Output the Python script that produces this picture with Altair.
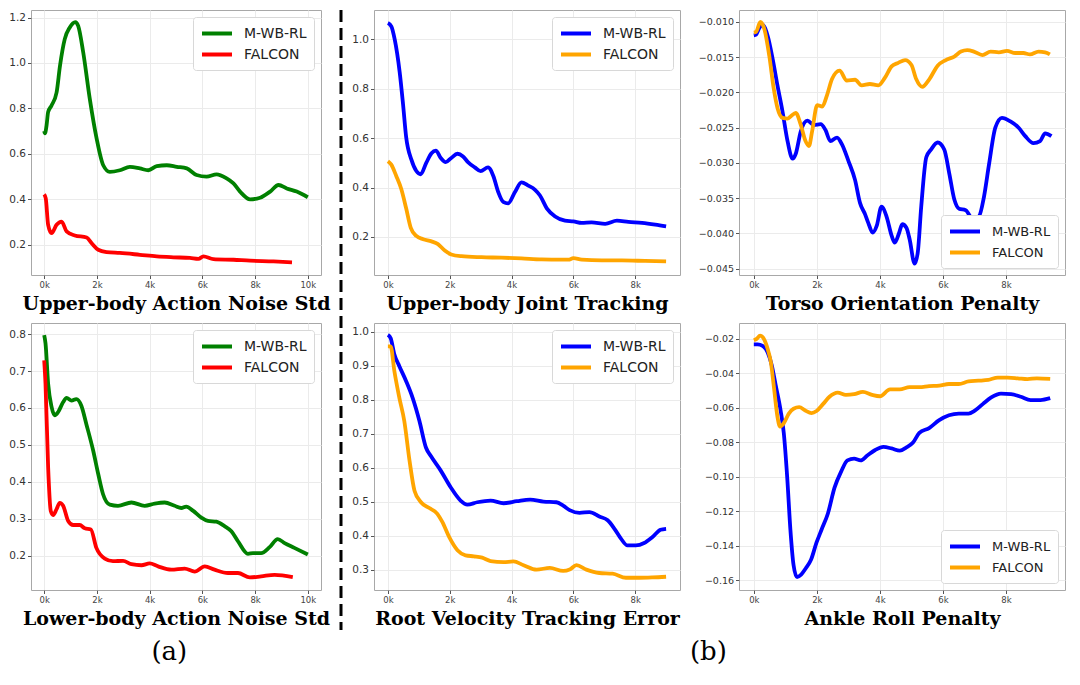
import altair as alt
import pandas as pd

METHODS = ["M-WB-RL", "FALCON"]

# ---------------- (a) Upper-body Action Noise Std ----------------
ub_noise_mwb_x = [0, 0.03, 0.09, 0.15, 0.28, 0.47, 0.6, 0.78, 0.97, 1.18, 1.29, 1.48, 1.73, 1.99, 2.24, 2.49,
                  2.87, 3.25, 3.63, 3.95, 4.27, 4.65, 5.03, 5.41, 5.78, 6.16, 6.54, 6.92, 7.18, 7.43, 7.81,
                  8.19, 8.57, 8.89, 9.2, 9.58, 10.0]
ub_noise_mwb_y = [0.70, 0.69, 0.725, 0.784, 0.813, 0.87, 0.988, 1.105, 1.156, 1.18, 1.163, 1.047, 0.842, 0.667,
                  0.55, 0.521, 0.528, 0.543, 0.536, 0.528, 0.546, 0.55, 0.543, 0.536, 0.507, 0.5, 0.51, 0.492,
                  0.47, 0.434, 0.4, 0.407, 0.434, 0.463, 0.448, 0.434, 0.409]
ub_noise_fal_x = [0, 0.06, 0.15, 0.28, 0.47, 0.66, 0.85, 1.16, 1.61, 1.8, 2.05, 2.37, 2.87, 3.63, 4.27, 4.9,
                  5.53, 5.85, 6.04, 6.42, 7.18, 7.81, 8.7, 9.4]
ub_noise_fal_y = [0.422, 0.404, 0.288, 0.251, 0.288, 0.302, 0.259, 0.241, 0.232, 0.207, 0.178, 0.168, 0.164,
                  0.156, 0.149, 0.145, 0.142, 0.138, 0.149, 0.137, 0.134, 0.13, 0.127, 0.123]

# ---------------- (a) Lower-body Action Noise Std ----------------
lb_noise_mwb_x = [0, 0.05, 0.15, 0.28, 0.4, 0.53, 0.72, 0.85, 1.04, 1.22, 1.41, 1.6, 1.86, 2.05, 2.23, 2.49,
                  2.8, 3.31, 3.81, 4.19, 4.57, 4.95, 5.2, 5.39, 5.64, 5.96, 6.21, 6.53, 6.84, 7.1, 7.35, 7.73,
                  7.92, 8.23, 8.55, 8.86, 9.12, 9.49, 10.0]
lb_noise_mwb_y = [0.797, 0.775, 0.666, 0.603, 0.58, 0.589, 0.616, 0.627, 0.62, 0.624, 0.606, 0.556, 0.484,
                  0.421, 0.367, 0.338, 0.335, 0.344, 0.335, 0.341, 0.344, 0.335, 0.329, 0.333, 0.322, 0.303,
                  0.294, 0.292, 0.28, 0.266, 0.239, 0.205, 0.207, 0.207, 0.223, 0.245, 0.234, 0.221, 0.203]
lb_noise_fal_x = [0, 0.05, 0.15, 0.25, 0.34, 0.47, 0.59, 0.72, 0.91, 1.1, 1.35, 1.54, 1.77, 1.98, 2.3, 2.61,
                  2.99, 3.31, 3.69, 4.0, 4.32, 4.82, 5.33, 5.71, 6.09, 6.46, 6.97, 7.35, 7.8, 8.23, 8.74, 9.43]
lb_noise_fal_y = [0.729, 0.666, 0.439, 0.321, 0.31, 0.326, 0.343, 0.335, 0.294, 0.283, 0.283, 0.274, 0.271,
                  0.221, 0.192, 0.185, 0.186, 0.177, 0.174, 0.179, 0.171, 0.162, 0.165, 0.157, 0.171, 0.162,
                  0.153, 0.153, 0.141, 0.144, 0.148, 0.142]

# ---------------- (b) Upper-body Joint Tracking ----------------
ub_track_mwb_x = [0, 0.11, 0.22, 0.38, 0.49, 0.59, 0.76, 0.92, 1.06, 1.24, 1.41, 1.55, 1.71, 1.87, 2.05, 2.25,
                  2.43, 2.59, 2.81, 3.0, 3.24, 3.41, 3.57, 3.73, 3.89, 4.11, 4.32, 4.54, 4.76, 4.92, 5.14,
                  5.41, 5.73, 6.0, 6.27, 6.59, 7.03, 7.41, 7.78, 8.22, 8.65, 9.0]
ub_track_mwb_y = [1.066, 1.053, 1.0, 0.868, 0.737, 0.605, 0.513, 0.467, 0.454, 0.5, 0.539, 0.55, 0.52, 0.503,
                  0.52, 0.537, 0.526, 0.503, 0.482, 0.467, 0.482, 0.447, 0.382, 0.342, 0.336, 0.382, 0.421,
                  0.408, 0.391, 0.368, 0.316, 0.283, 0.266, 0.263, 0.257, 0.259, 0.253, 0.266, 0.261, 0.257,
                  0.25, 0.243]
ub_track_fal_x = [0, 0.11, 0.27, 0.43, 0.59, 0.74, 0.92, 1.14, 1.41, 1.62, 1.84, 2.05, 2.38, 3.03, 3.68, 4.32,
                  4.97, 5.62, 5.84, 6.0, 6.27, 6.92, 7.57, 8.32, 9.0]
ub_track_fal_y = [0.507, 0.493, 0.447, 0.395, 0.316, 0.237, 0.204, 0.191, 0.182, 0.171, 0.145, 0.129, 0.122,
                  0.118, 0.116, 0.113, 0.109, 0.108, 0.108, 0.114, 0.108, 0.105, 0.105, 0.103, 0.101]

# ---------------- (b) Root Velocity Tracking Error ----------------
root_vel_mwb_x = [0, 0.09, 0.21, 0.37, 0.59, 0.8, 1.02, 1.23, 1.39, 1.71, 2.03, 2.35, 2.57, 2.89, 3.32, 3.74,
                  4.17, 4.6, 5.03, 5.45, 5.67, 5.88, 6.2, 6.52, 6.84, 7.11, 7.33, 7.54, 7.75, 8.02, 8.29, 8.56,
                  8.82, 9.0]
root_vel_mwb_y = [0.99, 0.98, 0.932, 0.898, 0.854, 0.805, 0.737, 0.659, 0.634, 0.591, 0.542, 0.503, 0.491,
                  0.498, 0.503, 0.495, 0.501, 0.506, 0.5, 0.498, 0.488, 0.475, 0.467, 0.469, 0.456, 0.445,
                  0.42, 0.391, 0.371, 0.371, 0.378, 0.396, 0.417, 0.42]
root_vel_fal_x = [0, 0.09, 0.21, 0.37, 0.53, 0.7, 0.86, 1.07, 1.34, 1.6, 1.76, 1.98, 2.25, 2.51, 2.78, 3.05,
                  3.32, 3.74, 4.06, 4.39, 4.81, 5.24, 5.67, 5.88, 6.1, 6.42, 6.84, 7.27, 7.7, 8.13, 8.56, 9.0]
root_vel_fal_y = [0.956, 0.956, 0.883, 0.805, 0.737, 0.62, 0.532, 0.498, 0.481, 0.464, 0.44, 0.396, 0.357,
                  0.342, 0.339, 0.335, 0.325, 0.322, 0.324, 0.313, 0.3, 0.305, 0.296, 0.3, 0.313, 0.3, 0.29,
                  0.288, 0.276, 0.276, 0.277, 0.279]

# ---------------- (b) Torso Orientation Penalty ----------------
torso_mwb_x = [0, 0.07, 0.18, 0.28, 0.44, 0.6, 0.75, 0.91, 1.07, 1.23, 1.33, 1.49, 1.7, 1.91, 2.12, 2.27,
               2.43, 2.64, 2.8, 3.0, 3.21, 3.37, 3.53, 3.63, 3.77, 3.9, 4.05, 4.21, 4.37, 4.47, 4.61, 4.71,
               4.84, 4.94, 5.1, 5.2, 5.31, 5.47, 5.62, 5.83, 6.04, 6.2, 6.36, 6.51, 6.72, 6.95, 7.14, 7.3,
               7.46, 7.66, 7.87, 8.14, 8.4, 8.61, 8.87, 9.08, 9.24, 9.44]
torso_mwb_y = [-0.0119, -0.0118, -0.0108, -0.0104, -0.012, -0.0153, -0.019, -0.0227, -0.0269, -0.0294,
               -0.0287, -0.0255, -0.024, -0.0246, -0.0245, -0.0253, -0.0269, -0.0264, -0.0274, -0.0297,
               -0.0324, -0.0357, -0.0373, -0.0385, -0.0399, -0.0389, -0.0362, -0.0376, -0.0403, -0.0413,
               -0.0399, -0.0387, -0.0392, -0.0408, -0.0443, -0.0427, -0.0362, -0.0292, -0.0281, -0.0271,
               -0.0281, -0.0315, -0.0352, -0.0365, -0.0367, -0.038, -0.0376, -0.0348, -0.0302, -0.025,
               -0.0236, -0.0241, -0.025, -0.0262, -0.0272, -0.0269, -0.0258, -0.0262]
torso_fal_x = [0, 0.07, 0.21, 0.34, 0.49, 0.63, 0.75, 0.91, 1.07, 1.17, 1.33, 1.49, 1.64, 1.75, 1.85, 2.01,
               2.17, 2.32, 2.48, 2.72, 2.95, 3.21, 3.42, 3.68, 3.95, 4.16, 4.37, 4.58, 4.8, 5.0, 5.15, 5.34,
               5.57, 5.83, 6.09, 6.36, 6.57, 6.77, 6.98, 7.25, 7.51, 7.77, 8.03, 8.29, 8.55, 8.76, 9.03,
               9.24, 9.39]
torso_fal_y = [-0.0115, -0.0114, -0.0100, -0.0111, -0.0148, -0.0194, -0.0222, -0.0236, -0.0237, -0.0234,
               -0.0229, -0.0246, -0.0269, -0.0276, -0.0255, -0.0218, -0.022, -0.0204, -0.0181, -0.0169,
               -0.0183, -0.0182, -0.019, -0.0188, -0.019, -0.0179, -0.0163, -0.0158, -0.0154, -0.0161,
               -0.0181, -0.0192, -0.0181, -0.0162, -0.0154, -0.0149, -0.0142, -0.014, -0.0142, -0.0147,
               -0.0142, -0.0143, -0.0141, -0.0144, -0.0144, -0.0146, -0.0142, -0.0143, -0.0146]

# ---------------- (b) Ankle Roll Penalty ----------------
ankle_mwb_x = [0, 0.12, 0.28, 0.44, 0.57, 0.69, 0.85, 0.95, 1.06, 1.16, 1.26, 1.37, 1.5, 1.65, 1.81, 1.99,
               2.15, 2.35, 2.56, 2.77, 2.97, 3.18, 3.39, 3.6, 3.85, 4.11, 4.37, 4.63, 4.84, 5.05, 5.25, 5.56,
               5.88, 6.19, 6.5, 6.81, 7.02, 7.27, 7.53, 7.84, 8.16, 8.47, 8.78, 9.09, 9.4]
ankle_mwb_y = [-0.0234, -0.0234, -0.0243, -0.028, -0.0355, -0.0467, -0.0616, -0.0746, -0.1006, -0.1305,
               -0.151, -0.158, -0.1566, -0.1529, -0.1482, -0.138, -0.1305, -0.1212, -0.1063, -0.097,
               -0.0905, -0.0895, -0.0905, -0.0877, -0.0845, -0.0827, -0.0836, -0.0849, -0.083, -0.0802,
               -0.0746, -0.0718, -0.0672, -0.0644, -0.0634, -0.0634, -0.0616, -0.0578, -0.0541, -0.0519,
               -0.0522, -0.0537, -0.0556, -0.0556, -0.0545]
ankle_fal_x = [0, 0.09, 0.2, 0.3, 0.44, 0.54, 0.64, 0.75, 0.83, 0.95, 1.11, 1.26, 1.44, 1.63, 1.83, 1.99,
               2.2, 2.4, 2.66, 2.92, 3.18, 3.46, 3.75, 4.0, 4.32, 4.63, 4.94, 5.25, 5.56, 5.88, 6.19, 6.5,
               6.81, 7.12, 7.44, 7.74, 8.05, 8.37, 8.68, 8.98, 9.4]
ankle_fal_y = [-0.021, -0.0202, -0.0183, -0.0196, -0.0261, -0.0336, -0.0485, -0.0653, -0.0709, -0.069,
               -0.0634, -0.0606, -0.0597, -0.0616, -0.0631, -0.0619, -0.0578, -0.0537, -0.0513, -0.0526,
               -0.0522, -0.0509, -0.0526, -0.0534, -0.0494, -0.0494, -0.0481, -0.0481, -0.0475, -0.0472,
               -0.0463, -0.0463, -0.0448, -0.0444, -0.0439, -0.0426, -0.0426, -0.043, -0.0435, -0.043,
               -0.0433]

# axis ticks
x_ticks_10 = [0, 2, 4, 6, 8, 10]
x_ticks_8 = [0, 2, 4, 6, 8]
y_ticks_p1 = [0.2, 0.4, 0.6, 0.8, 1.0, 1.2]
y_ticks_p2 = [0.2, 0.3, 0.4, 0.5, 0.6, 0.7, 0.8]
y_ticks_p3 = [0.2, 0.4, 0.6, 0.8, 1.0]
y_ticks_p4 = [0.3, 0.4, 0.5, 0.6, 0.7, 0.8, 0.9, 1.0]
y_ticks_p5 = [-0.045, -0.040, -0.035, -0.030, -0.025, -0.020, -0.015, -0.010]
y_ticks_p6 = [-0.16, -0.14, -0.12, -0.10, -0.08, -0.06, -0.04, -0.02]

GREEN_RED = ["#008000", "#ff0000"]
BLUE_ORANGE = ["#0000ff", "#ffa500"]


def panel(mx, my, fx, fy, colors, xdom, ydom, xticks, yticks, yfmt, title, w, h,
          legend_orient, label_size, legend_size):
    df = pd.DataFrame({
        "step": mx + fx,
        "value": my + fy,
        "method": [METHODS[0]] * len(mx) + [METHODS[1]] * len(fx),
    })
    return alt.Chart(df).mark_line(strokeWidth=3.8, interpolate="monotone", clip=True).encode(
        x=alt.X("step:Q",
                scale=alt.Scale(domain=xdom, nice=False, zero=False),
                axis=alt.Axis(values=xticks, labelExpr="datum.value + 'k'", labelFontSize=8.5,
                              labelColor="#444",
                              title=title, titleFont="DejaVu Serif", titleFontWeight="bold",
                              titleFontSize=19, titleColor="black", titlePadding=5)),
        y=alt.Y("value:Q",
                scale=alt.Scale(domain=ydom, nice=False, zero=False),
                axis=alt.Axis(values=yticks, format=yfmt, labelFontSize=label_size, title=None)),
        color=alt.Color("method:N",
                        scale=alt.Scale(domain=METHODS, range=colors),
                        legend=alt.Legend(title=None, orient=legend_orient, labelFontSize=legend_size)),
    ).properties(width=w, height=h)


p1 = panel(ub_noise_mwb_x, ub_noise_mwb_y, ub_noise_fal_x, ub_noise_fal_y, GREEN_RED,
           [-0.5, 10.5], [0.067, 1.233], x_ticks_10, y_ticks_p1, ".1f",
           "Upper-body Action Noise Std", 290, 265, "top-right", 10.5, 14)
p2 = panel(lb_noise_mwb_x, lb_noise_mwb_y, lb_noise_fal_x, lb_noise_fal_y, GREEN_RED,
           [-0.5, 10.5], [0.107, 0.83], x_ticks_10, y_ticks_p2, ".1f",
           "Lower-body Action Noise Std", 290, 267, "top-right", 10.5, 14)
p3 = panel(ub_track_mwb_x, ub_track_mwb_y, ub_track_fal_x, ub_track_fal_y, BLUE_ORANGE,
           [-0.45, 9.45], [0.046, 1.119], x_ticks_8, y_ticks_p3, ".1f",
           "Upper-body Joint Tracking", 306, 265, "top-right", 10.5, 14)
p4 = panel(root_vel_mwb_x, root_vel_mwb_y, root_vel_fal_x, root_vel_fal_y, BLUE_ORANGE,
           [-0.45, 9.45], [0.24, 1.025], x_ticks_8, y_ticks_p4, ".1f",
           "Root Velocity Tracking Error", 306, 267, "top-right", 10.5, 14)
p5 = panel(torso_mwb_x, torso_mwb_y, torso_fal_x, torso_fal_y, BLUE_ORANGE,
           [-0.47, 9.87], [-0.0459, -0.0083], x_ticks_8, y_ticks_p5, ".3f",
           "Torso Orientation Penalty", 326, 265, "bottom-right", 9.5, 13)
p6 = panel(ankle_mwb_x, ankle_mwb_y, ankle_fal_x, ankle_fal_y, BLUE_ORANGE,
           [-0.47, 9.87], [-0.1655, -0.011], x_ticks_8, y_ticks_p6, ".2f",
           "Ankle Roll Penalty", 326, 267, "bottom-right", 9.5, 13)

dash = alt.Chart(pd.DataFrame({"k": [0]})).mark_rule(
    strokeDash=[12, 6], strokeWidth=3, color="black"
).encode(
    x=alt.value(3), y=alt.value(0), y2=alt.value(620)
).properties(width=6, height=620, view=alt.ViewBackground(stroke="transparent"))

sub_title = dict(orient="bottom", font="DejaVu Serif", fontSize=26, fontWeight="normal",
                 anchor="middle", color="black", offset=10)

colA = alt.vconcat(p1, p2, spacing=8, title=alt.TitleParams("(a)", **sub_title)).resolve_scale(color="independent")
colB = alt.vconcat(p3, p4, spacing=8).resolve_scale(color="independent")
colC = alt.vconcat(p5, p6, spacing=8).resolve_scale(color="independent")
groupB = alt.hconcat(colB, colC, spacing=16,
                     title=alt.TitleParams("(b)", **sub_title)).resolve_scale(color="independent")

chart = alt.hconcat(colA, dash, groupB, spacing=6).resolve_scale(
    color="independent"
).properties(padding=0).configure_view(
    stroke="#a8a8a8", strokeWidth=1
).configure_axis(
    domain=False, grid=True, gridColor="#ebebeb", tickColor="#555", tickSize=3.5,
    labelColor="#333", labelFont="DejaVu Sans", labelPadding=2
).configure_legend(
    padding=7, strokeColor="#d8d8d8", fillColor="white", cornerRadius=3,
    symbolType="M-1,0H3", symbolStrokeWidth=4, symbolSize=225, labelFont="DejaVu Sans",
    labelColor="#222", offset=7, rowPadding=3, labelOffset=25
)

chart.save("out.html", embed_options={"renderer": "svg", "actions": False})
